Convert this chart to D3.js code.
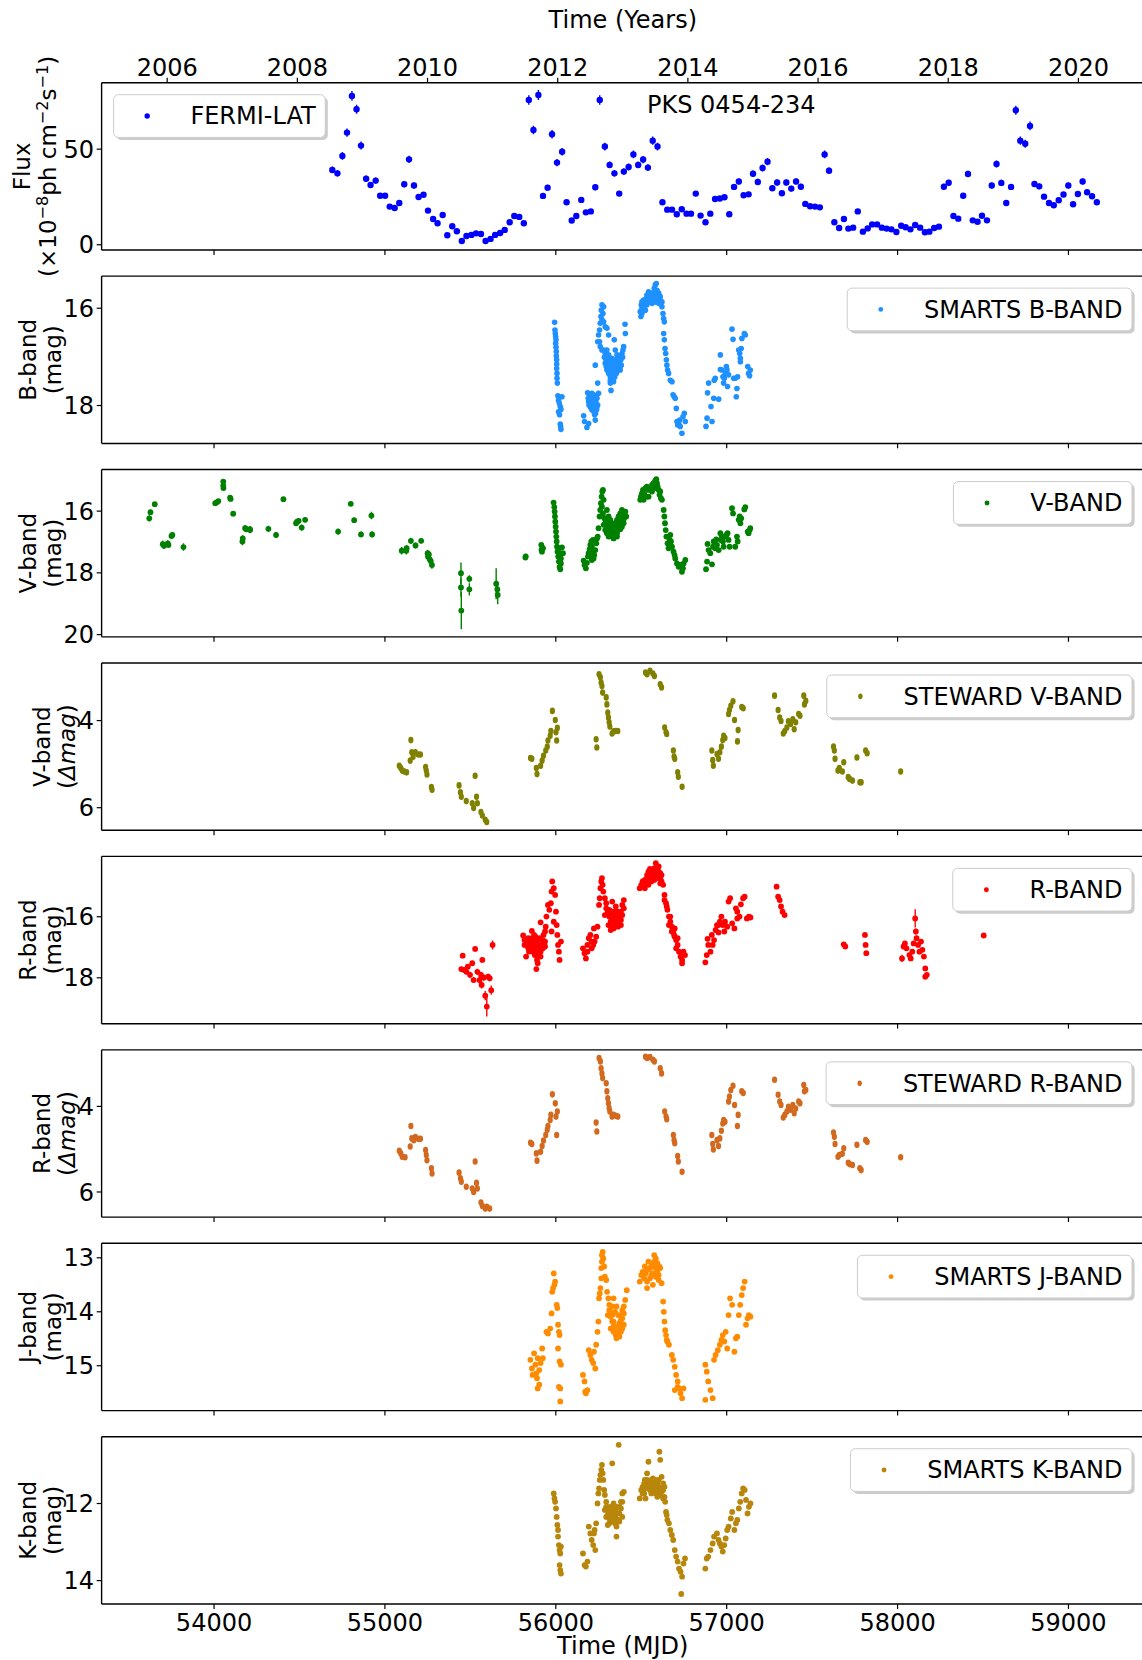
<!DOCTYPE html>
<html>
<head>
<meta charset="utf-8">
<script src="https://cdn.jsdelivr.net/npm/d3@7"></script>
<style>
  body { margin: 0; background: #fff; }
  svg { display: block; font-family: "DejaVu Sans", sans-serif; }
</style>
</head>
<body>
<svg id="chart" width="1142" height="1660"></svg>
<script>
// ---------------------------------------------------------------
// PKS 0454-234 multi-wavelength light curves
// ---------------------------------------------------------------

// Axis ranges and ticks
const mjdDomain = [53345, 59445];
const yearDomain = [2005, 2021];
const mjdTicks = [54000, 55000, 56000, 57000, 58000, 59000];
const yearTicks = [2006, 2008, 2010, 2012, 2014, 2016, 2018, 2020];

// Fermi-LAT monthly flux: [MJD, flux (1e-8 ph cm^-2 s^-1), error]
const fermiLAT = [
  [54695,38.9,1.8],[54725,37.1,1.7],[54754,46.2,2.0],[54781,58.4,2.2],[54810,77.6,2.6],[54837,70.6,2.4],
  [54863,51.6,2.1],[54893,34.3,1.7],[54919,31.0,1.6],[54949,33.3,1.6],[54975,25.4,1.4],[55004,25.4,1.4],
  [55031,19.7,1.3],[55060,19.0,1.2],[55087,21.6,1.3],[55116,31.4,1.6],[55144,44.4,1.9],[55173,30.7,1.6],
  [55200,24.7,1.4],[55229,25.9,1.4],[55255,17.6,1.2],[55285,13.2,1.1],[55311,11.0,1.0],[55341,15.3,1.1],
  [55368,4.7,0.8],[55397,9.4,1.0],[55424,6.8,0.9],[55453,1.7,0.7],[55480,4.3,0.8],[55509,4.9,0.8],
  [55536,5.7,0.8],[55565,5.4,0.8],[55592,1.7,0.7],[55621,2.8,0.7],[55648,4.9,0.8],[55677,5.9,0.8],
  [55704,7.5,0.9],[55733,11.5,1.0],[55760,14.8,1.1],[55789,14.3,1.1],[55816,11.0,1.0],[55845,75.5,2.5],
  [55872,59.8,2.2],[55901,78.1,2.6],[55928,25.3,1.4],[55955,29.6,1.5],[55981,57.5,2.2],[56010,42.7,1.9],
  [56040,48.4,2.0],[56066,22.0,1.3],[56096,12.4,1.0],[56123,14.8,1.1],[56152,23.2,1.3],[56179,16.7,1.2],
  [56208,17.2,1.2],[56234,29.8,1.5],[56260,75.5,2.5],[56290,51.1,2.0],[56318,41.5,1.8],[56346,37.1,1.7],
  [56374,26.5,1.4],[56401,38.0,1.7],[56429,40.4,1.8],[56457,47.0,2.0],[56485,41.5,1.8],[56514,44.3,1.9],
  [56542,40.1,1.8],[56570,54.2,2.1],[56598,51.1,2.0],[56627,22.0,1.3],[56655,18.1,1.2],[56683,18.1,1.2],
  [56711,15.7,1.1],[56740,18.3,1.2],[56768,16.0,1.1],[56794,16.0,1.1],[56822,26.5,1.4],[56850,15.0,1.1],
  [56879,11.5,1.0],[56907,16.0,1.1],[56935,23.7,1.3],[56963,23.9,1.3],[56990,24.6,1.4],[57018,15.7,1.1],
  [57046,30.0,1.5],[57074,32.8,1.6],[57102,25.6,1.4],[57131,26.1,1.4],[57157,36.9,1.7],[57185,32.6,1.6],
  [57213,39.9,1.8],[57242,43.2,1.9],[57270,29.3,1.5],[57298,32.3,1.6],[57326,26.7,1.4],[57352,32.3,1.6],
  [57381,29.1,1.5],[57409,32.8,1.6],[57437,30.1,1.5],[57463,21.1,1.3],[57491,19.9,1.2],[57520,19.7,1.2],
  [57548,19.3,1.2],[57576,47.0,2.0],[57602,38.5,1.7],[57633,11.5,1.0],[57661,8.5,0.9],[57689,13.2,1.0],
  [57715,8.2,0.9],[57743,8.7,0.9],[57770,17.2,1.2],[57800,6.6,0.8],[57828,8.3,0.9],[57854,10.4,0.9],
  [57883,10.4,0.9],[57911,8.7,0.9],[57939,8.2,0.9],[57967,7.8,0.9],[57996,6.4,0.8],[58024,9.7,0.9],
  [58050,8.9,0.9],[58078,7.8,0.9],[58106,10.1,0.9],[58135,8.7,0.9],[58163,6.3,0.8],[58189,6.6,0.8],
  [58217,8.5,0.9],[58245,9.2,0.9],[58274,30.1,1.5],[58302,32.2,1.6],[58330,14.8,1.1],[58358,13.4,1.0],
  [58387,25.4,1.4],[58415,36.8,1.7],[58443,12.5,1.0],[58471,11.8,1.0],[58497,14.9,1.1],[58526,12.5,1.0],
  [58554,30.7,1.5],[58582,42.0,1.8],[58610,32.1,1.6],[58639,21.6,1.3],[58667,30.0,1.5],[58695,70.1,2.4],
  [58721,54.2,2.1],[58750,52.6,2.1],[58778,61.9,2.3],[58804,31.5,1.6],[58832,30.3,1.5],[58860,24.9,1.4],
  [58889,21.6,1.3],[58917,20.4,1.3],[58946,23.0,1.3],[58974,26.0,1.4],[59002,30.7,1.5],[59030,20.9,1.3],
  [59058,26.3,1.4],[59086,32.8,1.6],[59112,27.2,1.4],[59141,25.1,1.4],[59169,22.0,1.3]
];

// SMARTS B band: [MJD, mag]
const smartsB = [
  [55996,16.30],[55998,16.46],[56000,16.53],[56002,16.59],[56004,16.66],[56002,16.73],[56004,16.81],[56006,16.90],
  [56006,16.99],[56008,17.07],[56008,17.16],[56008,17.25],[56010,17.35],[56010,17.45],[56012,17.55],[56015,17.81],
  [56039,17.83],[56019,17.90],[56023,17.96],[56029,18.03],[56033,18.09],[56019,18.14],[56025,18.20],[56029,18.39],
  [56031,18.44],[56033,18.50],
  [56166,18.22],[56171,18.34],[56185,18.46],[56195,18.38],[56201,17.96],[56205,17.83],[56214,17.76],[56224,17.79],
  [56234,17.83],[56244,17.86],[56195,17.93],[56205,18.03],[56214,18.00],[56224,17.96],[56234,17.93],[56244,18.03],
  [56214,18.10],[56230,18.20],[56234,18.31],[56248,17.55],[56253,17.76],
  [56189,17.75],[56199,17.77],[56209,17.81],[56218,17.86],[56228,17.90],[56238,17.95],[56248,18.00],[56193,17.86],
  [56203,17.91],[56212,17.95],[56222,18.00],[56232,18.05],[56242,18.09],[56197,18.00],[56207,18.05],[56216,18.09],
  [56226,18.14],[56236,18.17],
  [56234,17.18],[56248,16.70],[56253,16.56],[56259,16.46],[56263,16.32],[56267,16.18],[56269,16.05],[56273,15.94],
  [56283,15.98],[56279,16.12],[56273,16.25],[56283,16.29],[56292,16.39],[56302,16.42],[56312,16.56],[56259,16.70],
  [56263,16.80],[56273,16.87],[56283,16.87],[56292,16.94],[56302,17.01],[56312,17.04],[56322,17.07],[56331,17.14],
  [56302,17.14],[56312,17.21],[56322,17.28],[56331,17.31],[56341,17.35],[56322,17.42],[56331,17.49],[56322,17.55],
  [56326,17.70],[56341,17.21],[56351,17.18],[56361,17.14],[56370,17.07],[56380,17.01],[56390,16.94],[56396,16.87],
  [56400,16.80],[56410,16.53],[56408,16.34],[56345,16.66],[56351,16.87],[56361,16.97],[56370,17.21],[56380,17.28],
  [56302,16.87],[56292,17.14],[56302,17.28],[56312,17.35],
  [56287,17.02],[56296,17.06],[56306,17.11],[56316,17.16],[56326,17.20],[56335,17.25],[56345,17.28],[56355,17.23],
  [56365,17.18],[56374,17.13],[56384,17.07],[56394,17.02],[56298,17.21],[56308,17.27],[56318,17.31],[56328,17.36],
  [56337,17.40],[56347,17.43],[56357,17.35],[56367,17.29],[56376,17.25],[56386,17.18],[56312,16.97],[56331,17.04],
  [56351,17.07],[56370,17.02],[56322,17.49],[56341,17.52],
  [56497,16.08],[56501,16.18],[56507,16.12],[56503,15.94],[56507,15.88],[56517,15.84],[56527,15.91],[56532,15.81],
  [56536,15.74],[56546,15.67],[56552,15.74],[56556,15.88],[56560,15.81],[56566,15.77],[56571,15.84],[56575,15.70],
  [56579,15.60],[56585,15.53],[56591,15.50],[56595,15.64],[56599,15.70],[56605,15.81],[56610,15.88],[56614,15.77],
  [56618,15.91],[56624,15.98],[56630,16.12],[56634,16.22],[56638,16.29],[56517,16.01],[56536,15.94],[56566,15.91],
  [56585,15.88],[56595,15.88],[56605,15.91],
  [56507,16.01],[56527,16.05],[56546,15.81],[56566,15.70],[56585,15.64],[56605,15.70],[56624,15.88],[56536,15.84],
  [56556,15.77],[56575,15.81],[56595,15.77],[56614,15.84],
  [56634,16.53],[56638,16.66],[56642,16.84],[56646,16.94],[56650,17.07],[56653,17.18],[56657,17.28],[56663,17.35],
  [56673,17.49],[56683,17.52],[56689,17.79],[56696,17.83],[56702,17.86],[56708,18.07],[56712,18.34],[56716,18.41],
  [56722,18.38],[56728,18.31],[56731,18.44],[56741,18.58],[56747,18.24],[56755,18.17],[56761,18.34],
  [56882,18.44],[56888,18.27],[56897,17.55],[56891,17.75],[56911,18.03],[56917,18.34],[56927,17.86],[56930,17.49],
  [56936,17.45],[56956,17.88],[56966,16.97],[56966,17.27],[56975,17.28],[56981,17.42],[56985,17.55],[56989,17.45],
  [56995,17.35],[57001,17.21],[57005,17.28],[57008,17.62],[57014,17.38],[57034,16.44],[57040,16.65],[57044,17.45],
  [57053,17.45],[57059,17.83],[57063,17.66],[57067,17.42],[57073,16.87],[57079,16.94],[57083,17.04],[57088,16.84],
  [57092,16.63],[57106,16.53],[57112,16.56],[57126,17.21],[57131,17.35],[57137,17.40],[57141,17.28],[57083,17.11]
];

// V band (all observers): [MJD, mag, error]
const bandV = [
  [53624,16.25,0.10],[53631,16.05,0.08],[53656,15.79,0.07],[53703,17.09,0.12],[53710,17.14,0.10],[53732,17.06,0.10],
  [53736,17.11,0.10],[53754,16.82,0.10],[53759,16.79,0.10],[53824,17.18,0.12],[54010,15.76,0.06],[54019,15.73,0.06],
  [54028,15.69,0.06],[54057,15.06,0.08],[54057,15.19,0.08],[54058,15.27,0.08],[54097,15.58,0.07],[54100,15.62,0.07],
  [54115,16.10,0.08],[54169,17.00,0.12],[54171,16.90,0.10],[54185,16.57,0.10],[54192,16.60,0.10],[54213,16.60,0.10],
  [54214,16.63,0.10],[54321,16.59,0.10],[54366,16.79,0.10],[54409,15.63,0.06],[54483,16.41,0.08],[54489,16.36,0.08],
  [54498,16.33,0.08],[54516,16.55,0.10],[54536,16.30,0.08],[54729,16.68,0.10],[54803,15.78,0.06],[54823,16.31,0.07],
  [54863,16.77,0.09],[54924,16.16,0.12],[54928,16.77,0.10],[55101,17.30,0.12],[55128,17.30,0.12],[55130,17.22,0.10],
  [55155,16.98,0.10],[55182,17.13,0.10],[55215,16.98,0.08],[55253,17.38,0.10],[55255,17.49,0.10],[55260,17.42,0.10],
  [55264,17.57,0.10],[55271,17.63,0.10],[55278,17.76,0.12],[55448,18.03,0.35],[55448,18.49,0.30],[55450,19.24,0.60],
  [55497,18.21,0.12],[55497,18.55,0.20],[55654,18.37,0.50],[55661,18.55,0.25],[55663,18.73,0.30],[55825,17.52,0.08],
  [55827,17.48,0.08],[55919,17.27,0.10],
  [55918,17.11],[55928,17.22],[55922,17.33],
  [55990,15.74],[55994,15.89],[55996,16.03],[55998,16.19],[56000,16.36],[56002,16.52],[56004,16.68],[56006,16.84],
  [56008,17.00],[56010,17.17],[56013,17.33],[56017,17.49],[56021,17.65],[56025,17.82],[56029,17.90],[56033,17.71],
  [56039,17.19],[56045,17.38],[56019,17.22],[56029,17.38],[56033,17.55],
  [56166,17.62],[56171,17.76],[56179,17.87],[56185,17.69],[56191,17.49],[56195,17.38],[56201,17.25],[56205,17.11],
  [56211,17.00],[56214,17.17],[56220,16.95],[56224,17.33],[56228,17.44],[56234,17.28],[56240,17.06],[56244,16.90],
  [56253,16.57],[56248,16.84],[56205,17.49],[56214,17.60],[56224,17.55],
  [56259,16.19],[56263,15.98],[56267,15.76],[56271,15.55],[56275,15.38],[56279,15.33],[56283,15.65],[56273,15.87],
  [56279,16.09],[56287,16.25],[56292,16.41],[56302,16.52],[56312,16.41],[56322,16.57],[56331,16.73],[56341,16.79],
  [56351,16.73],[56361,16.68],[56370,16.57],[56380,16.41],[56390,16.25],[56400,16.14],[56410,16.03],[56415,16.19],
  [56302,15.98],[56312,16.19],[56322,16.30],[56331,16.41],[56341,16.52],[56351,16.46],[56361,16.30],[56370,16.19],
  [56380,16.09],[56390,15.98],[56302,16.68],[56312,16.84],[56322,16.79],[56283,16.46],[56292,16.63],[56331,16.84],
  [56341,16.90],[56361,16.84],[56390,16.52],[56400,16.41],
  [56292,16.25],[56302,16.36],[56312,16.46],[56322,16.52],[56331,16.63],[56341,16.68],[56351,16.63],[56361,16.57],
  [56370,16.46],[56380,16.30],[56390,16.19],[56400,16.28],[56302,16.73],[56322,16.68],[56341,16.73],[56361,16.73],
  [56380,16.60],[56312,16.57],[56331,16.52],[56351,16.41],[56370,16.36],[56390,16.36],[56400,16.09],[56410,16.19],
  [56497,15.65],[56501,15.55],[56507,15.44],[56513,15.33],[56521,15.46],[56527,15.27],[56536,15.22],[56546,15.33],
  [56556,15.27],[56566,15.17],[56575,15.11],[56585,15.03],[56591,14.98],[56595,15.11],[56599,15.22],[56605,15.33],
  [56610,15.49],[56614,15.38],[56618,15.60],[56624,15.65],[56517,15.65],[56532,15.55],[56507,15.60],[56546,15.55],
  [56566,15.38],[56585,15.27],[56634,15.98],[56638,16.19],[56642,16.41],[56646,16.63],[56650,16.84],[56657,17.06],
  [56663,17.22],[56669,16.95],[56673,16.79],[56677,17.00],[56683,17.17],[56692,17.33],[56698,17.44],[56702,17.55],
  [56712,17.71],[56722,17.82],[56731,17.76],[56741,17.98],[56751,17.71],[56761,17.60],[56747,17.87],
  [56882,17.90],[56888,17.65],[56891,17.08],[56897,17.28],[56907,17.38],[56917,17.74],[56923,17.17],[56927,17.00],
  [56936,17.22],[56942,16.93],[56946,17.11],[56956,17.28],[56966,16.73],[56969,16.95],[56975,16.84],[56981,17.00],
  [56985,17.17],[56995,16.84],[57001,16.79],[57008,16.73],[57014,16.95],[57020,17.17],[57034,15.92],[57040,16.09],
  [57053,17.17],[57063,16.84],[57067,17.00],[57073,16.30],[57079,16.19],[57083,16.41],[57088,16.25],[57106,15.96],
  [57112,15.89],[57126,16.68],[57131,16.73],[57137,16.63],[57141,16.57]
];

// Steward Observatory V band, differential magnitude: [MJD, dmag]
const stewardV = [
  [55087,5.05],[55096,5.10],[55104,5.16],[55117,5.18],[55130,5.20],[55151,4.93],[55155,4.46],[55160,4.74],
  [55168,4.84],[55181,4.74],[55198,4.79],[55211,4.79],[55241,5.08],[55245,5.16],[55249,5.25],[55275,5.54],[55279,5.60],
  [55437,5.50],[55445,5.66],[55450,5.76],[55479,5.86],[55514,5.91],[55522,6.02],[55531,5.28],[55539,5.76],
  [55544,5.91],[55565,6.11],[55573,6.19],[55590,6.29],[55599,6.34],
  [55855,4.87],[55863,4.89],[55889,5.10],[55893,5.24],[55914,5.05],[55923,4.93],[55931,4.82],[55944,4.70],
  [55953,4.61],[55957,4.47],[55970,4.36],[55974,4.25],[55983,3.79],[56000,4.00],[56004,4.28],[56008,4.47],[56012,4.18],
  [56239,4.44],[56243,4.63],[56256,2.95],[56264,3.02],[56268,3.14],[56273,3.22],[56277,3.37],[56298,3.48],
  [56302,3.64],[56307,3.83],[56311,3.94],[56315,4.05],[56319,4.15],[56332,4.31],[56341,4.26],[56354,4.25],[56366,4.25],
  [56528,2.91],[56537,2.95],[56554,2.87],[56571,2.93],[56580,2.99],[56614,3.18],[56622,3.25],[56640,4.17],
  [56648,4.28],[56652,4.32],[56691,4.70],[56695,4.84],[56699,4.89],[56716,5.20],[56720,5.30],[56742,5.53],
  [56916,4.70],[56921,4.92],[56925,5.05],[56946,4.78],[56955,4.89],[56963,4.74],[56972,4.61],[56980,4.46],
  [56985,4.36],[56993,4.41],[57014,3.86],[57019,3.77],[57027,3.67],[57040,3.57],[57049,4.00],[57066,4.49],
  [57070,4.23],[57091,3.70],[57100,3.73],
  [57283,3.44],[57304,3.77],[57313,3.94],[57321,4.02],[57334,4.31],[57343,4.25],[57355,4.17],[57364,4.03],
  [57377,4.09],[57390,3.98],[57398,4.21],[57407,4.05],[57424,3.86],[57432,3.90],[57454,3.44],[57458,3.64],[57466,3.56],
  [57628,4.61],[57633,4.70],[57637,4.89],[57654,5.16],[57662,5.10],[57680,5.18],[57688,4.97],[57714,5.31],
  [57722,5.35],[57739,5.39],[57765,4.86],[57782,5.43],[57790,5.43],[57816,4.70],[57825,4.76],
  [58021,5.18]
];

// R band (all observers): [MJD, mag, error]
const bandR = [
  [55450,17.73,0.08],[55458,17.29,0.08],[55467,17.76,0.08],[55480,17.82,0.08],[55488,17.65,0.08],[55501,17.92,0.10],
  [55514,17.54,0.08],[55522,18.09,0.10],[55531,17.07,0.08],[55544,17.82,0.10],[55556,18.09,0.12],[55565,17.92,0.10],
  [55569,18.25,0.12],[55573,17.43,0.08],[55582,18.01,0.10],[55590,18.60,0.15],[55599,18.96,0.32],[55607,17.98,0.10],
  [55616,18.03,0.10],[55625,18.42,0.15],[55633,16.94,0.15],
  [55812,16.63],[55820,16.94],[55829,17.32],[55842,17.05],[55850,16.83],[55854,16.78],[55863,16.48],[55871,17.16],
  [55880,16.83],[55884,16.67],[55893,17.43],[55897,17.54],[55906,16.94],[55910,16.72],[55914,16.20],[55927,17.05],
  [55931,16.61],[55940,16.83],[55944,16.34],[55948,16.01],[55957,15.63],[55965,15.79],[55974,15.57],[55978,15.19],
  [55982,14.86],[55991,15.08],[55999,15.30],[56004,15.85],[56008,16.29],[56012,16.61],[56016,16.94],[56021,17.16],
  [56025,17.43],[56033,16.83],[55978,16.50],[55991,16.18],[55829,16.94],[55842,16.72],[55863,17.05],[55884,17.16],
  [55897,16.94],[55914,17.16],[55927,16.78],[55940,16.50],[55876,16.61],[55906,17.27],[55889,17.73],
  [55820,16.78],[55837,16.89],[55854,16.99],[55871,16.94],[55889,17.05],[55906,17.10],[55923,16.94],[55940,16.99],
  [55846,17.16],[55880,17.27],[55914,17.32],[55863,16.72],[55897,16.78],[55931,16.83],
  [56162,17.05],[56171,17.21],[56179,17.38],[56188,16.94],[56196,16.72],[56205,16.61],[56213,16.83],[56222,16.94],
  [56226,16.40],[56239,16.67],[56247,16.34],[56256,15.63],[56260,15.41],[56264,15.08],[56269,14.86],[56273,14.75],
  [56277,14.97],[56281,15.19],[56290,15.41],[56298,15.57],[56307,15.85],[56316,16.01],[56324,16.18],[56333,16.34],
  [56341,16.12],[56350,15.85],[56358,16.01],[56367,16.23],[56375,16.07],[56384,15.85],[56392,15.63],[56401,15.47],
  [56333,15.52],[56354,15.68],[56311,16.29],[56324,16.45],[56290,15.96],[56298,15.74],[56367,15.85],[56188,17.16],
  [56213,17.05],[56230,16.83],[56341,16.40],[56358,16.29],[56316,15.79],
  [56316,15.85],[56324,16.01],[56333,16.12],[56341,15.96],[56350,16.18],[56358,16.12],[56367,16.01],[56375,15.90],
  [56384,16.12],[56392,15.96],[56333,15.85],[56350,16.01],[56367,16.34],[56384,16.29],[56401,15.74],
  [56494,15.08],[56503,14.97],[56511,14.86],[56524,14.81],[56537,14.65],[56545,14.54],[56554,14.45],[56567,14.65],
  [56575,14.59],[56588,14.26],[56597,14.48],[56605,14.70],[56614,14.75],[56622,14.86],[56631,14.97],[56639,15.30],
  [56648,15.57],[56656,15.79],[56665,16.01],[56673,16.18],[56682,16.34],[56690,16.50],[56699,16.67],[56707,16.78],
  [56716,16.94],[56724,17.16],[56733,17.32],[56742,17.43],[56750,17.16],[56759,17.27],[56742,17.54],[56524,15.08],
  [56537,14.86],[56567,14.81],[56588,14.70],[56605,14.54],[56622,14.65],[56639,15.47],[56652,15.68],[56673,16.01],
  [56695,16.61],[56716,16.72],[56554,14.70],[56579,14.43],[56597,14.75],[56614,14.59],[56665,16.29],[56682,16.50],
  [56699,16.40],[56707,17.05],
  [56520,14.92],[56537,14.75],[56554,14.59],[56571,14.48],[56588,14.43],[56605,14.37],[56545,14.97],[56579,14.81],
  [56614,14.92],[56597,14.65],[56562,14.86],
  [56878,17.51],[56886,17.27],[56891,16.74],[56895,16.94],[56908,17.16],[56916,16.61],[56929,16.78],[56938,16.45],
  [56946,16.29],[56955,16.53],[56963,16.18],[56972,16.01],[56980,16.29],[56993,16.18],[57006,16.34],[57014,15.52],
  [57023,15.41],[57035,16.23],[57048,16.40],[57057,15.74],[57065,15.85],[57078,16.01],[57086,15.61],[57099,15.41],
  [57108,15.36],[57121,16.07],[57133,16.01],[57142,16.04],[56921,16.94],[56955,16.29],[56989,16.50],[57065,16.07],
  [57295,15.03],[57304,15.36],[57313,15.47],[57321,15.68],[57330,15.85],[57342,15.96],
  [57688,16.92],[57697,16.99],[57812,16.61],[57816,16.94],[57820,17.21],
  [58029,17.38,0.12],[58038,16.99,0.08],[58046,16.89,0.08],[58055,17.05,0.08],[58072,17.27,0.08],[58080,17.38,0.08],
  [58089,17.16,0.08],[58097,16.89,0.08],[58106,16.07,0.30],[58110,16.50,0.10],[58114,16.72,0.08],[58123,16.94,0.08],
  [58131,17.16,0.08],[58140,16.83,0.08],[58148,17.10,0.08],[58157,17.32,0.08],[58165,17.71,0.08],[58174,17.92,0.08],
  [58165,17.98,0.08],
  [58507,16.63]
];

// Steward Observatory R band, differential magnitude: [MJD, dmag]
const stewardR = [
  [55087,5.05],[55096,5.11],[55104,5.19],[55121,5.20],[55151,4.95],[55155,4.47],[55160,4.76],[55172,4.80],
  [55181,4.73],[55198,4.77],[55211,4.77],[55241,5.03],[55245,5.15],[55249,5.27],[55275,5.46],[55279,5.58],
  [55437,5.56],[55445,5.69],[55450,5.77],[55479,5.89],[55514,5.93],[55522,6.01],[55531,5.30],[55539,5.80],
  [55544,5.93],[55565,6.26],[55573,6.34],[55590,6.40],[55599,6.36],[55616,6.40],
  [55855,4.86],[55863,4.89],[55889,5.11],[55893,5.28],[55914,5.07],[55923,4.94],[55931,4.81],[55944,4.68],
  [55953,4.56],[55957,4.47],[55970,4.33],[55974,4.21],[55983,3.73],[56000,3.94],[56004,4.25],[56008,4.68],[56012,4.13],
  [56239,4.39],[56243,4.60],[56256,2.88],[56264,2.96],[56268,3.12],[56273,3.24],[56277,3.35],[56298,3.47],
  [56302,3.66],[56307,3.82],[56311,3.94],[56315,4.05],[56319,4.13],[56332,4.25],[56341,4.21],[56354,4.23],[56366,4.25],
  [56528,2.85],[56537,2.88],[56554,2.86],[56571,2.92],[56580,2.96],[56614,3.12],[56622,3.24],[56640,4.13],
  [56648,4.25],[56652,4.31],[56691,4.68],[56695,4.80],[56699,4.87],[56716,5.17],[56720,5.30],[56742,5.54],
  [56916,4.68],[56921,4.89],[56925,5.02],[56946,4.80],[56955,4.94],[56963,4.76],[56972,4.58],[56980,4.41],
  [56985,4.33],[56993,4.37],[57014,3.90],[57019,3.78],[57027,3.63],[57040,3.53],[57049,3.98],[57066,4.47],
  [57070,4.21],[57091,3.66],[57100,3.70],
  [57283,3.39],[57304,3.74],[57313,3.90],[57321,3.98],[57334,4.27],[57343,4.21],[57355,4.13],[57364,4.02],
  [57377,4.09],[57390,3.98],[57398,4.17],[57407,4.06],[57424,3.90],[57432,3.94],[57454,3.51],[57458,3.66],[57466,3.63],
  [57628,4.62],[57633,4.72],[57637,4.89],[57654,5.19],[57662,5.15],[57680,5.12],[57688,4.99],[57714,5.33],
  [57722,5.36],[57739,5.38],[57765,4.91],[57782,5.46],[57790,5.50],[57816,4.80],[57825,4.84],
  [58021,5.20]
];

// SMARTS J band: [MJD, mag]
const smartsJ = [
  [55854,14.90],[55863,15.06],[55867,15.18],[55876,14.78],[55884,14.99],[55889,15.15],[55893,15.24],[55897,14.87],
  [55906,15.09],[55914,14.96],[55923,14.69],[55927,14.87],[55897,15.43],[55906,15.36],[55948,14.38],[55957,14.41],
  [55970,14.32],[55978,14.04],[55982,13.64],[55987,13.57],[55991,13.30],[55995,13.51],[55999,13.45],[56008,13.88],
  [56012,13.94],[56016,14.25],[56021,14.38],[56025,14.44],[56016,14.69],[56025,14.93],[56033,14.99],[56021,15.40],
  [56029,15.43],[56029,15.67],
  [56162,15.18],[56171,15.30],[56175,15.49],[56179,15.52],[56188,15.46],[56196,14.72],[56205,14.81],[56213,14.90],
  [56222,14.96],[56226,14.75],[56234,15.06],[56239,14.62],[56247,14.38],[56252,14.19],[56256,13.76],[56260,13.67],
  [56264,13.57],[56269,13.39],[56269,13.20],[56273,13.08],[56273,12.96],[56277,12.90],[56281,13.02],[56286,13.17],
  [56290,13.36],[56298,13.42],[56303,13.64],[56311,13.76],[56316,13.88],[56324,14.01],[56333,14.07],[56341,14.19],
  [56350,14.28],[56358,14.38],[56367,14.32],[56375,14.22],[56384,14.07],[56392,13.98],[56401,13.91],[56409,13.79],
  [56418,13.61],[56324,14.32],[56354,14.44],[56375,14.47],[56341,13.76],[56358,13.91],[56384,14.38],[56307,14.07],
  [56316,13.98],[56324,14.10],[56333,14.19],[56341,14.28],[56350,14.38],[56358,14.44],[56367,14.41],[56375,14.35],
  [56384,14.25],[56392,14.13],[56401,14.04],[56333,13.91],[56350,14.01],[56367,14.07],[56384,14.16],[56401,14.25],
  [56341,14.38],[56358,14.50],[56375,14.38],[56392,14.32],
  [56494,13.45],[56503,13.33],[56511,13.27],[56524,13.17],[56537,13.23],[56545,13.08],[56554,13.20],[56562,13.33],
  [56571,13.11],[56579,12.96],[56588,13.02],[56592,13.14],[56597,13.27],[56605,13.33],[56614,13.20],[56622,13.48],
  [56631,13.82],[56635,14.01],[56639,14.19],[56643,14.35],[56648,14.44],[56652,14.53],[56656,14.56],[56665,14.62],
  [56682,14.81],[56690,14.90],[56699,15.03],[56707,15.18],[56716,15.30],[56724,15.43],[56733,15.52],[56742,15.61],
  [56750,15.43],[56716,15.40],[56699,15.46],[56537,13.57],[56571,13.51],[56588,13.36],
  [56520,13.39],[56528,13.30],[56545,13.23],[56562,13.17],[56579,13.08],[56597,13.11],[56609,13.17],[56537,13.45],
  [56554,13.39],[56571,13.30],[56588,13.20],[56605,13.42],
  [56878,14.99],[56886,15.12],[56895,15.30],[56908,15.46],[56921,15.61],[56878,15.64],[56929,14.90],[56938,14.81],
  [56951,14.72],[56963,14.62],[56972,14.53],[56980,14.44],[56989,14.56],[56997,14.38],[57006,14.69],[57014,14.07],
  [57023,13.76],[57035,13.88],[57048,14.75],[57057,14.50],[57065,14.47],[57074,14.07],[57082,13.88],[57091,13.70],
  [57099,13.57],[57108,13.45],[57116,14.25],[57125,14.13],[57133,14.07],[57142,14.10]
];

// SMARTS K band: [MJD, mag]
const smartsK = [
  [55991,11.75],[55995,11.88],[55999,11.97],[56004,12.14],[56008,12.36],[56012,12.57],[56016,12.70],[56016,12.87],
  [56021,13.09],[56025,13.22],[56029,13.31],[56033,13.13],[56025,13.61],[56029,13.74],[56033,13.83],
  [56162,13.31],[56171,13.61],[56179,13.65],[56188,13.52],[56196,12.61],[56205,12.79],[56213,12.96],[56222,13.09],
  [56226,12.79],[56230,12.70],[56234,13.22],[56239,12.53],[56247,12.01],[56252,11.75],[56256,11.62],[56260,11.40],
  [56264,11.27],[56269,11.14],[56273,11.01],[56277,11.23],[56281,11.40],[56286,11.66],[56290,11.79],[56298,11.97],
  [56307,12.18],[56316,12.40],[56324,12.31],[56333,12.10],[56341,12.18],[56350,12.36],[56358,12.44],[56367,12.27],
  [56375,12.10],[56384,11.97],[56392,11.75],[56401,11.71],[56333,10.97],[56358,12.87],[56371,10.49],[56316,12.53],
  [56341,12.48],[56358,12.27],[56298,12.36],[56307,12.57],
  [56298,12.10],[56307,12.31],[56316,12.23],[56324,12.44],[56333,12.31],[56341,12.31],[56350,12.18],[56358,12.10],
  [56367,12.44],[56375,12.27],[56384,12.14],[56392,11.97],[56324,12.14],[56341,12.01],[56358,12.61],[56375,12.48],
  [56392,12.36],[56290,12.18],[56316,12.10],[56350,12.53],
  [56494,11.88],[56503,11.66],[56511,11.58],[56524,11.40],[56537,11.23],[56545,10.93],[56554,11.66],[56562,11.53],
  [56571,11.36],[56579,11.45],[56588,11.58],[56597,11.71],[56605,11.40],[56609,10.67],[56614,10.88],[56622,11.32],
  [56631,11.49],[56639,11.84],[56643,11.97],[56648,12.23],[56652,12.31],[56656,12.44],[56665,12.53],[56673,12.70],
  [56682,12.83],[56690,12.96],[56699,13.22],[56707,13.39],[56716,13.52],[56724,13.70],[56733,13.78],[56742,13.91],
  [56737,14.36],[56750,13.57],[56759,13.44],[56537,11.53],[56571,11.66],[56588,11.40],[56614,11.79],[56520,11.75],
  [56511,11.75],[56528,11.62],[56545,11.49],[56562,11.40],[56579,11.58],[56597,11.49],[56614,11.62],[56631,11.66],
  [56520,11.49],[56537,11.40],[56554,11.53],[56571,11.49],[56588,11.75],[56605,11.58],[56622,11.71],[56639,11.58],
  [56528,11.88],[56562,11.75],[56597,11.84],[56631,11.88],
  [56878,13.70],[56886,13.44],[56895,13.39],[56908,13.22],[56921,13.05],[56929,12.87],[56946,12.79],[56955,12.96],
  [56963,13.05],[56972,13.13],[56980,13.26],[56989,13.09],[56997,12.92],[57006,12.70],[57014,12.61],[57027,12.40],
  [57035,12.23],[57048,12.70],[57057,12.53],[57065,12.44],[57074,12.14],[57082,11.97],[57091,11.75],[57099,11.62],
  [57108,11.66],[57116,11.92],[57125,12.27],[57133,12.10],[57142,12.01]
];

// Per-panel y limits (top value first) and tick values
const yLimits = [[84.5, -3.0], [15.35, 18.79], [14.67, 20.09], [2.69, 6.53], [14.04, 19.52], [2.69, 6.60], [12.74, 15.84], [10.28, 14.62]];
const yTickValues = [[0, 50], [16, 18], [16, 18, 20], [4, 6], [16, 18], [4, 6], [13, 14, 15], [12, 14]];
const seriesNames = ['FERMI-LAT', 'SMARTS B-BAND', 'V-BAND', 'STEWARD V-BAND', 'R-BAND', 'STEWARD R-BAND', 'SMARTS J-BAND', 'SMARTS K-BAND'];

// y-axis titles; each line is a list of [text, style] runs
const yTitles = [
  [[['Flux']], [['(×10'], ['−8', 'sup'], ['ph cm'], ['−2', 'sup'], ['s'], ['−1', 'sup'], [')']]],
  [[['B-band']], [['(mag)']]],
  [[['V-band']], [['(mag)']]],
  [[['V-band']], [['('], ['Δmag', 'it'], [')']]],
  [[['R-band']], [['(mag)']]],
  [[['R-band']], [['('], ['Δmag', 'it'], [')']]],
  [[['J-band']], [['(mag)']]],
  [[['K-band']], [['(mag)']]]
];

const panels = [
  { data: fermiLAT, color: '#0000ff', r: 3.2, legend: 'left' },
  { data: smartsB, color: '#1e90ff', r: 2.8, legend: 'right' },
  { data: bandV, color: '#008000', r: 2.9, legend: 'right' },
  { data: stewardV, color: '#808000', r: 2.6, ry: 3.3, legend: 'right' },
  { data: bandR, color: '#ff0000', r: 2.9, legend: 'right' },
  { data: stewardR, color: '#d2691e', r: 2.6, ry: 3.3, legend: 'right' },
  { data: smartsJ, color: '#ff8c00', r: 2.9, legend: 'right' },
  { data: smartsK, color: '#b8860b', r: 2.9, legend: 'right' }
];

// ---------------------------------------------------------------
// Layout
// ---------------------------------------------------------------
const axLeft = 101.6, axRight = 1144;
const top0 = 82.7, step = 193.43, ph = 167.3;
const FS = 24;       // tick / legend / title font size
const YFS = 23;      // y title font size
const ink = '#000';

const svg = d3.select('#chart');
const defs = svg.append('defs');

const x = d3.scaleLinear().domain(mjdDomain).range([axLeft, axRight]);
const xYear = d3.scaleLinear().domain(yearDomain).range([axLeft, axRight - 1]);

function styleAxis(g) {
  g.select('.domain').remove();
  g.attr('font-family', null).attr('font-size', null);
  g.selectAll('.tick line').attr('stroke', ink).attr('stroke-width', 1.2);
  g.selectAll('.tick text').attr('fill', ink).attr('font-size', FS);
}

function drawYTitle(lines, xs, cy) {
  lines.forEach((runs, k) => {
    const t = svg.append('text')
      .attr('transform', `translate(${xs[k]},${cy}) rotate(-90)`)
      .attr('text-anchor', 'middle')
      .attr('font-size', YFS)
      .attr('fill', ink);
    let raised = false;
    runs.forEach(([s, style]) => {
      const ts = t.append('tspan').text(s);
      if (style === 'sup') {
        ts.attr('font-size', YFS * 0.7);
        if (!raised) ts.attr('dy', -8.5);
        raised = true;
      } else {
        if (raised) ts.attr('dy', 8.5);
        raised = false;
        if (style === 'it') ts.attr('font-style', 'italic');
      }
    });
  });
}

function drawLegend(p, label, top) {
  const g = svg.append('g');
  const txt = g.append('text').attr('font-size', FS).attr('fill', ink).text(label);
  const w = txt.node().getComputedTextLength();
  const bw = 9.6 + 48 + 19.2 + w + 9.6, bh = 42.7;
  const bx = p.legend === 'left' ? axLeft + 12 : axRight - 12 - bw;
  const by = top + 12;
  g.insert('rect', 'text').attr('x', bx + 2.6).attr('y', by + 2.6).attr('width', bw).attr('height', bh)
    .attr('rx', 4.8).attr('fill', '#9a9a9a').attr('opacity', 0.5);
  g.insert('rect', 'text').attr('x', bx).attr('y', by).attr('width', bw).attr('height', bh)
    .attr('rx', 4.8).attr('fill', '#fff').attr('stroke', '#cccccc').attr('stroke-width', 1);
  const my = by + bh / 2;
  g.append('ellipse').attr('cx', bx + 33.6).attr('cy', my).attr('rx', p.r * 0.85).attr('ry', (p.ry || p.r) * 0.85).attr('fill', p.color);
  txt.attr('x', bx + 76.8).attr('y', my + 8.3);
}

panels.forEach((p, i) => {
  const top = top0 + i * step, bottom = top + ph;
  const y = d3.scaleLinear().domain(yLimits[i]).range([top, bottom]);

  defs.append('clipPath').attr('id', 'clip' + i)
    .append('rect').attr('x', axLeft).attr('y', top).attr('width', axRight - axLeft).attr('height', ph);

  const plot = svg.append('g').attr('clip-path', `url(#clip${i})`);

  // error bars
  plot.append('g').selectAll('line')
    .data(p.data.filter(d => d.length > 2))
    .join('line')
    .attr('x1', d => x(d[0])).attr('x2', d => x(d[0]))
    .attr('y1', d => y(d[1] - d[2])).attr('y2', d => y(d[1] + d[2]))
    .attr('stroke', p.color).attr('stroke-width', 1.4);

  // points
  plot.append('g').selectAll('ellipse')
    .data(p.data)
    .join('ellipse')
    .attr('cx', d => x(d[0])).attr('cy', d => y(d[1]))
    .attr('rx', p.r).attr('ry', p.ry || p.r)
    .attr('fill', p.color);

  // y axis
  const gy = svg.append('g').attr('transform', `translate(${axLeft},0)`)
    .call(d3.axisLeft(y).tickValues(yTickValues[i]).tickSize(4.9).tickPadding(2.6).tickFormat(d3.format('d')));
  styleAxis(gy);
  gy.selectAll('.tick text').attr('dy', '0.36em');

  // bottom axis (MJD)
  const last = i === panels.length - 1;
  const gx = svg.append('g').attr('transform', `translate(0,${bottom})`)
    .call(d3.axisBottom(x).tickValues(mjdTicks).tickSize(4.9).tickPadding(5.2).tickFormat(last ? d3.format('d') : () => ''));
  styleAxis(gx);
  gx.selectAll('.tick text').attr('dy', '0.71em');

  // top axis (calendar years) on the gamma-ray panel
  if (i === 0) {
    const gt = svg.append('g').attr('transform', `translate(0,${top})`)
      .call(d3.axisTop(xYear).tickValues(yearTicks).tickSize(4.9).tickPadding(1.8).tickFormat(d3.format('d')));
    styleAxis(gt);
    gt.selectAll('.tick text').attr('dy', 0);
  }

  // spines
  const sp = svg.append('g').attr('stroke', ink).attr('stroke-width', 1.4).attr('fill', 'none');
  sp.append('line').attr('x1', axLeft).attr('x2', axRight).attr('y1', top).attr('y2', top);
  sp.append('line').attr('x1', axLeft).attr('x2', axRight).attr('y1', bottom).attr('y2', bottom);
  sp.append('line').attr('x1', axLeft).attr('x2', axLeft).attr('y1', top).attr('y2', bottom);
  sp.append('line').attr('x1', axRight).attr('x2', axRight).attr('y1', top).attr('y2', bottom);

  // y title
  const cy = (top + bottom) / 2;
  const steward = i === 3 || i === 5;
  const xs = i === 0 ? [30, 56] : steward ? [50, 75] : [36, 61];
  drawYTitle(yTitles[i], xs, cy);

  // legend
  drawLegend(p, seriesNames[i], top);
});

// Source name inside the gamma-ray panel
svg.append('text').attr('x', 647).attr('y', 113).attr('font-size', FS).attr('fill', ink).text('PKS 0454-234');

// Axis titles
const cx = (axLeft + axRight) / 2;
svg.append('text').attr('x', cx).attr('y', 28).attr('text-anchor', 'middle').attr('font-size', FS).attr('fill', ink).text('Time (Years)');
svg.append('text').attr('x', cx).attr('y', 1654).attr('text-anchor', 'middle').attr('font-size', FS).attr('fill', ink).text('Time (MJD)');
</script>
</body>
</html>
